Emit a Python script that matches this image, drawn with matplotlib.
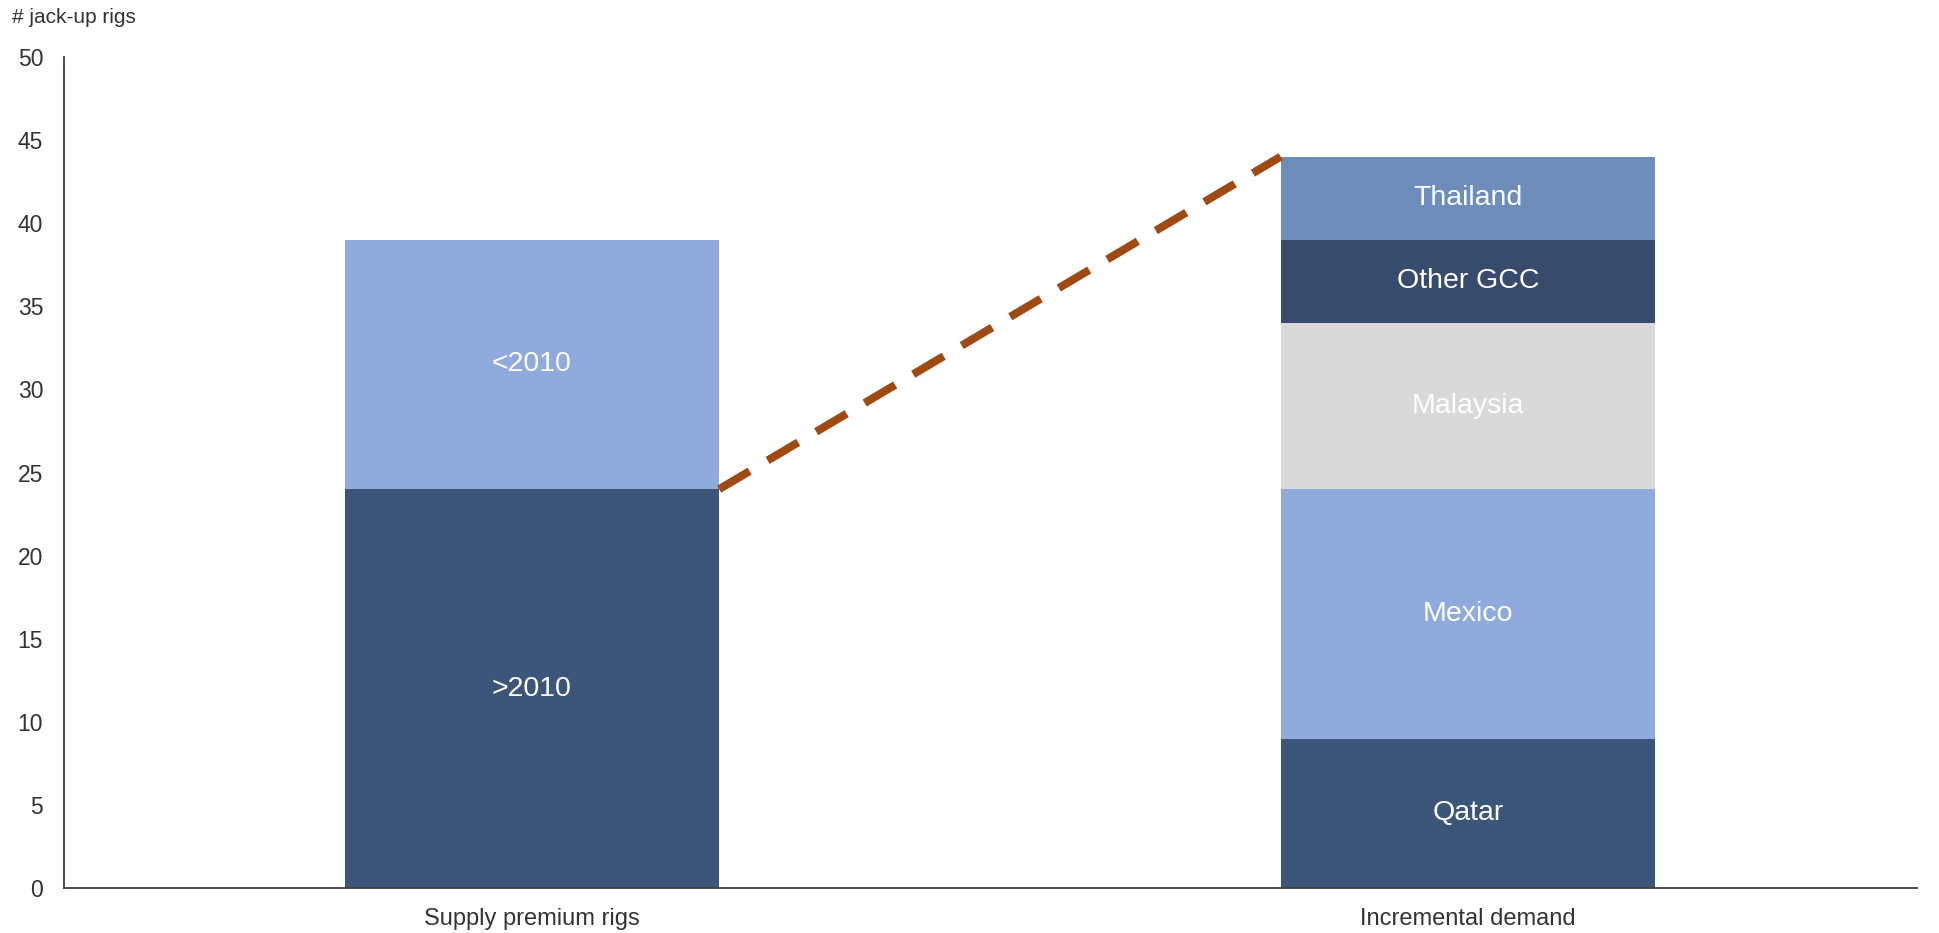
import matplotlib.pyplot as plt
import numpy as np

plt.rcParams['font.family'] = ['Liberation Sans', 'DejaVu Sans']

categories = ['Supply premium rigs', 'Incremental demand']

# stacked segments, bottom to top
supply_labels = ['>2010', '<2010']
supply_values = [24, 15]
supply_colors = ['#3C5679', '#8FAADC']

demand_labels = ['Qatar', 'Mexico', 'Malaysia', 'Other GCC', 'Thailand']
demand_values = [9, 15, 10, 5, 5]
demand_colors = ['#3C5679', '#8FAADC', '#D9D9D9', '#374C6D', '#6D8EBA']

y_ticks = [0, 5, 10, 15, 20, 25, 30, 35, 40, 45, 50]

fig = plt.figure(figsize=(19.39, 9.33), dpi=100)
ax = fig.add_axes([0.033, 0.048, 0.9557, 0.891])

bar_w = 0.4
x = np.arange(len(categories))


def stack(ax, xpos, labels, values, colors):
    bottom = 0
    for lab, val, col in zip(labels, values, colors):
        ax.bar(xpos, val, bottom=bottom, width=bar_w, color=col, edgecolor='none')
        ax.text(xpos, bottom + val / 2, lab, ha='center', va='center',
                color='white', fontsize=20.5)
        bottom += val
    return bottom


top_supply = stack(ax, x[0], supply_labels, supply_values, supply_colors)
top_demand = stack(ax, x[1], demand_labels, demand_values, demand_colors)

# dashed connector from top of newer-rig split to top of demand bar
ax.plot([x[0] + bar_w / 2, x[1] - bar_w / 2], [supply_values[0], top_demand],
        color='#9E4A12', linewidth=5.8, dashes=(4.4, 2.6), solid_capstyle='butt')

ax.set_xlim(-0.5, 1.48)
ax.set_ylim(0, 50)
ax.set_yticks(y_ticks)
ax.set_xticks(x)
ax.set_xticklabels(categories)
ax.tick_params(axis='y', length=0, pad=15, labelsize=16.5, labelcolor='#333333')
ax.tick_params(axis='x', length=0, pad=14, labelsize=17, labelcolor='#333333')

for side in ['top', 'right']:
    ax.spines[side].set_visible(False)
for side in ['left', 'bottom']:
    ax.spines[side].set_color('#404040')
    ax.spines[side].set_linewidth(1.3)

fig.text(0.006, 0.981, '# jack-up rigs', fontsize=15, color='#333333',
         ha='left', va='center')

fig.savefig('out.png', dpi=100)
